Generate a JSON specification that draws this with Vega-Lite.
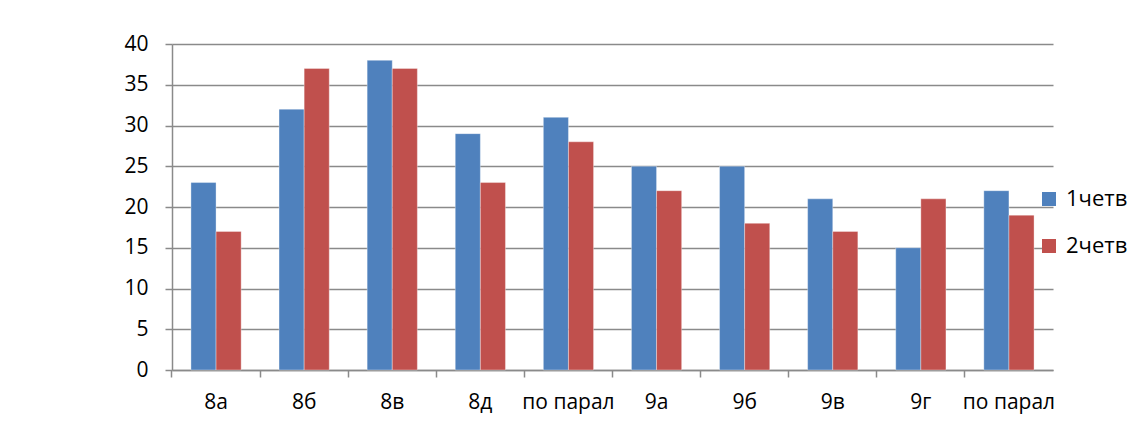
{
  "$schema": "https://vega.github.io/schema/vega-lite/v6.json",
  "autosize": {"type": "none"},
  "width": 881,
  "height": 326,
  "padding": {"left": 172, "top": 44, "right": 89, "bottom": 54},
  "background": "white",
  "data": {
    "values": [
      {"class": "8а", "quarter": "1четв", "value": 23},
      {"class": "8а", "quarter": "2четв", "value": 17},
      {"class": "8б", "quarter": "1четв", "value": 32},
      {"class": "8б", "quarter": "2четв", "value": 37},
      {"class": "8в", "quarter": "1четв", "value": 38},
      {"class": "8в", "quarter": "2четв", "value": 37},
      {"class": "8д", "quarter": "1четв", "value": 29},
      {"class": "8д", "quarter": "2четв", "value": 23},
      {"class": "по парал", "quarter": "1четв", "value": 31},
      {"class": "по парал", "quarter": "2четв", "value": 28},
      {"class": "9а", "quarter": "1четв", "value": 25},
      {"class": "9а", "quarter": "2четв", "value": 22},
      {"class": "9б", "quarter": "1четв", "value": 25},
      {"class": "9б", "quarter": "2четв", "value": 18},
      {"class": "9в", "quarter": "1четв", "value": 21},
      {"class": "9в", "quarter": "2четв", "value": 17},
      {"class": "9г", "quarter": "1четв", "value": 15},
      {"class": "9г", "quarter": "2четв", "value": 21},
      {"class": "по парал ", "quarter": "1четв", "value": 22},
      {"class": "по парал ", "quarter": "2четв", "value": 19}
    ]
  },
  "mark": {"type": "bar", "stroke": "#ffffff", "strokeOpacity": 0.35, "strokeWidth": 1},
  "encoding": {
    "x": {
      "field": "class",
      "type": "nominal",
      "sort": ["8а", "8б", "8в", "8д", "по парал", "9а", "9б", "9в", "9г", "по парал "],
      "scale": {"paddingInner": 0.43, "paddingOuter": 0.215},
      "axis": {
        "title": null,
        "labelAngle": 0,
        "bandPosition": -0.379,
        "labelFontSize": 21,
        "labelPadding": 14,
        "tickSize": 7,
        "grid": false
      }
    },
    "xOffset": {"field": "quarter", "type": "nominal", "scale": {"paddingInner": 0}},
    "y": {
      "field": "value",
      "type": "quantitative",
      "scale": {"domain": [0, 40], "nice": false},
      "axis": {
        "title": null,
        "values": [0, 5, 10, 15, 20, 25, 30, 35, 40],
        "labelFontSize": 21,
        "labelPadding": 17,
        "tickSize": 7,
        "grid": true
      }
    },
    "color": {
      "field": "quarter",
      "type": "nominal",
      "scale": {"domain": ["1четв", "2четв"], "range": ["#4F81BD", "#C0504D"]},
      "legend": {
        "title": null,
        "orient": "none",
        "legendX": 866,
        "legendY": 144,
        "symbolType": "square",
        "symbolSize": 196,
        "symbolStrokeWidth": 0,
        "labelFontSize": 22,
        "labelOffset": 6,
        "rowPadding": 25
      }
    }
  },
  "config": {
    "font": "Open Sans",
    "view": {"stroke": null},
    "axis": {
      "labelColor": "#000000",
      "labelFont": "Open Sans",
      "domainColor": "#8a8a8a",
      "domainWidth": 1.5,
      "tickColor": "#8a8a8a",
      "tickWidth": 1.5,
      "gridColor": "#8a8a8a",
      "gridWidth": 1.5
    },
    "legend": {"labelColor": "#000000", "labelFont": "Open Sans", "labelFontSize": 22}
  }
}
